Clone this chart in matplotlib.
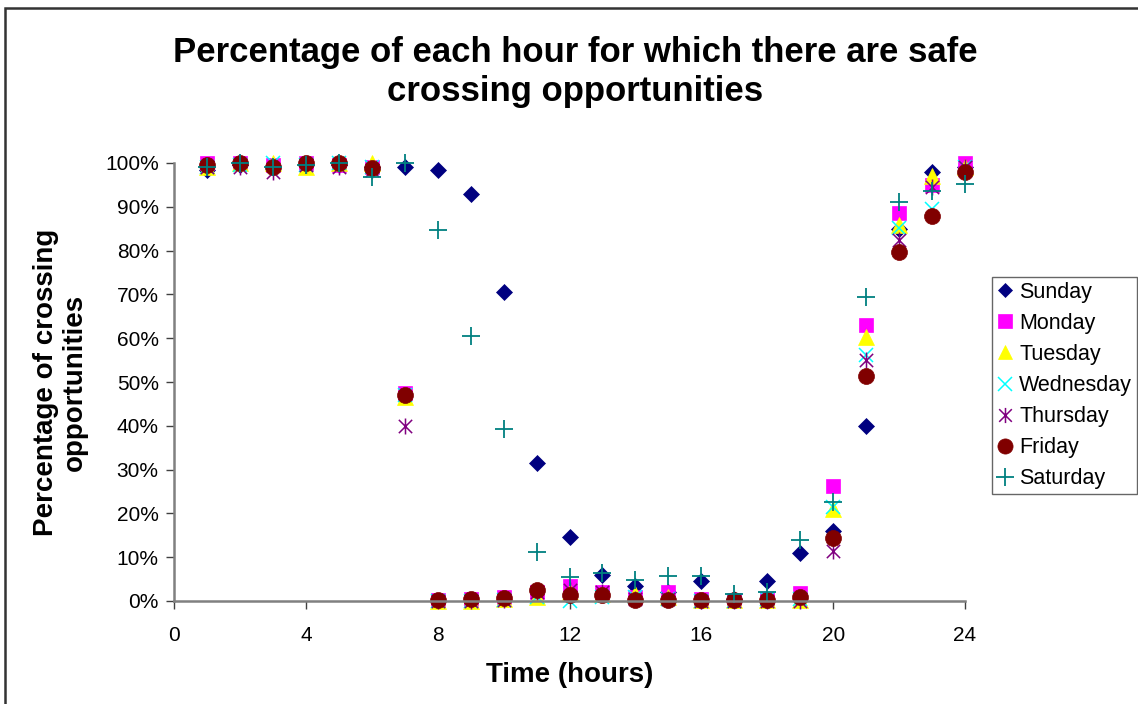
import matplotlib
matplotlib.use("Agg")
import matplotlib.pyplot as plt
from matplotlib.path import Path
from matplotlib.patches import Rectangle
from matplotlib.ticker import FuncFormatter

plt.rcParams['font.family'] = ['Liberation Sans', 'DejaVu Sans']

hours = list(range(1, 25))
sunday = [98.5, 99.5, 99, 99.5, 99.5, 99, 99, 98.5, 93, 70.5, 31.5, 14.5,
          6, 3.5, 2, 4.5, 0.5, 4.5, 11, 16, 40, 85, 98, 99]
monday = [100, 100, 99.5, 100, 99.5, 99, 47.5, 0.3, 0.5, 1, 2, 3.5,
          2, 1, 2, 0.5, 0.3, 0.5, 1.8, 26.3, 63, 88.5, 95, 100]
tuesday = [99, 100, 100, 99, 100, 100, 46.5, 0, 0, 0.5, 1, 2,
           1.5, 1.5, 1, 0.3, 0.2, 0.3, 0.2, 21, 60.3, 85.8, 97, 99]
wednesday = [99, 99.5, 100, 99.5, 100, 99, 47, 0, 0, 0.3, 1, 0,
             1, 1, 0.5, 0, 0, 0.5, 0.5, 21.5, 56.2, 85.2, 89.5, 99]
thursday = [99, 99, 98, 99.5, 99, 98.5, 40, 0, 0, 0.3, 2, 2.5,
            2, 0.5, 0.5, 0, 0, 0, 0, 11.5, 55, 82.4, 94.5, 99]
friday = [99.5, 100, 99, 100, 100, 98.8, 47, 0.2, 0.5, 0.6, 2.6, 1.4,
          1.4, 0.2, 0.2, 0.2, 0.2, 0.2, 0.9, 14.3, 51.4, 79.7, 87.8, 98]
saturday = [99, 100, 99, 99.5, 100, 96.8, 100, 84.8, 60.5, 39.3, 11.2, 5.5,
            6.5, 4.7, 5.8, 5.8, 1.6, 2, 13.9, 22.6, 69.3, 91.1, 93.5, 95.2]

series_names = ['Sunday', 'Monday', 'Tuesday', 'Wednesday', 'Thursday', 'Friday', 'Saturday']
series_values = [sunday, monday, tuesday, wednesday, thursday, friday, saturday]

x_ticks = [0, 4, 8, 12, 16, 20, 24]
y_ticks = [0, 10, 20, 30, 40, 50, 60, 70, 80, 90, 100]

# Excel-style asterisk marker: X plus vertical line
ast = Path([(-0.5, -0.5), (0.5, 0.5), (-0.5, 0.5), (0.5, -0.5), (0, -0.6), (0, 0.6)],
           [Path.MOVETO, Path.LINETO, Path.MOVETO, Path.LINETO, Path.MOVETO, Path.LINETO])

styles = [
    dict(marker='D', ms=7.8, mfc='#000080', mec='#000080', mew=0.5),
    dict(marker='s', ms=10, mfc='#FF00FF', mec='#FF00FF', mew=0.5),
    dict(marker='^', ms=11, mfc='#FFFF00', mec='#FFFF00', mew=0.5),
    dict(marker='x', ms=10.5, mfc='none', mec='#00FFFF', mew=1.1),
    dict(marker=ast, ms=11.5, mfc='none', mec='#800080', mew=1.1),
    dict(marker='o', ms=11.5, mfc='#800000', mec='#800000', mew=0.5),
    dict(marker='+', ms=13, mfc='none', mec='#008080', mew=1.3),
]

fig = plt.figure(figsize=(11.38, 7.04), dpi=100)
ax = fig.add_axes([174/1138, 1-601/704, (965-174)/1138, (601-163)/704])

for name, vals, st in zip(series_names, series_values, styles):
    ax.plot(hours, vals, linestyle='none', label=name, clip_on=False, **st)

ax.set_xlim(0, 24)
ax.set_ylim(0, 100)
ax.set_xticks(x_ticks)
ax.set_yticks(y_ticks)
ax.yaxis.set_major_formatter(FuncFormatter(lambda v, p: f"{int(v)}%"))
for s in ['top', 'right']:
    ax.spines[s].set_visible(False)
for s in ['left', 'bottom']:
    ax.spines[s].set_color('#808080')
    ax.spines[s].set_linewidth(1.8)
ax.tick_params(axis='both', direction='out', length=6, width=1, color='#404040',
               labelsize=15, labelcolor='black')
ax.tick_params(axis='y', pad=5)
ax.tick_params(axis='x', pad=12)

ax.set_xlabel('Time (hours)', fontsize=20, fontweight='bold', labelpad=12)
ax.set_ylabel('Percentage of crossing\nopportunities', fontsize=20, fontweight='bold',
              labelpad=12, linespacing=1.15)

fig.text(575/1138, 1-72/704, 'Percentage of each hour for which there are safe\ncrossing opportunities',
         ha='center', va='center', fontsize=25, fontweight='bold', linespacing=1.22)

leg = fig.legend(loc='upper left', bbox_to_anchor=(992/1138, 1-277/704),
                 fontsize=15.5, frameon=True, fancybox=False, edgecolor='#404040',
                 handlelength=0.75, handletextpad=0.3, borderpad=0.22, labelspacing=0.47,
                 borderaxespad=0, markerscale=0.95)
leg.get_frame().set_linewidth(1.0)

fig.patches.append(Rectangle((5/1138, -0.05), 1.2, 1 - 8/704 + 0.05, transform=fig.transFigure,
                             fill=False, edgecolor='#333333', linewidth=1.8))

fig.savefig('out.png', dpi=100)
